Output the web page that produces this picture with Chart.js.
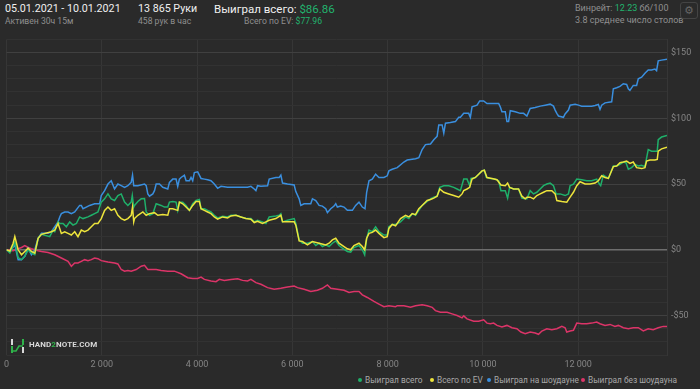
<!DOCTYPE html>
<html>
<head>
<meta charset="utf-8">
<script src="https://cdn.jsdelivr.net/npm/chart.js@4"></script>
<style>
  html, body { margin: 0; padding: 0; background: #2a2a2a; }
  body { width: 700px; height: 389px; position: relative; overflow: hidden; font-family: Roboto, "Noto Sans", sans-serif; }
  .t { position: absolute; white-space: nowrap; }
  .big { font-size: 10.7px; color: #f0f0f0; }
  .small { font-size: 8.6px; color: #8f8f8f; }
  .green { color: #22b46e; }
  #chart-wrap { position: absolute; left: 0; top: 30px; width: 700px; height: 340px; }
  #legend { position: absolute; top: 375px; left: 358px; font-size: 8.3px; color: #a8a8a8; }
  #legend span.item { position: absolute; white-space: nowrap; }
  #legend i { display: inline-block; width: 4px; height: 4px; border-radius: 50%; margin-right: 3px; vertical-align: middle; position: relative; top: -1px; }
  #gear { position: absolute; left: 680px; top: 2px; width: 16px; height: 15px; border: 1px solid #444; border-radius: 3px; color: #666; font-size: 11px; text-align: center; line-height: 15px; font-family: "DejaVu Sans", sans-serif; }
  #logo { position: absolute; left: 10px; top: 338px; height: 14px; }
  #logo .txt { position: absolute; left: 19px; top: 2px; font-size: 8px; font-weight: bold; color: #d8d8d8; letter-spacing: 0.1px; white-space: nowrap; }
</style>
</head>
<body>

<div class="t big" style="left:5px; top:2px;">05.01.2021 - 10.01.2021</div>
<div class="t small" style="left:5px; top:16px;">Активен 30ч 15м</div>
<div class="t big" style="left:138px; top:2px;">13 865 Руки</div>
<div class="t small" style="left:138px; top:16px;">458 рук в час</div>
<div class="t big" style="left:214px; top:2px; font-size:11.5px;">Выиграл всего: <span class="green">$86.86</span></div>
<div class="t small" style="right:378px; top:16px;">Всего по EV: <span class="green">$77.96</span></div>
<div class="t small" style="left:575px; top:3px; font-size:9px;">Винрейт: <span class="green">12.23</span> бб/100</div>
<div class="t small" style="left:575px; top:15px; font-size:9px;">3.8 среднее число столов</div>
<div id="gear">⚙</div>

<div id="chart-wrap"><canvas id="chart"></canvas></div>

<div id="logo">
  <svg width="16" height="14" viewBox="0 0 16 14">
    <rect x="1" y="0" width="2" height="6" fill="#d8d8d8"/>
    <rect x="1" y="7" width="2" height="7" fill="#2fb34a"/>
    <rect x="12" y="0" width="2" height="6" fill="#2fb34a"/>
    <rect x="12" y="8" width="2" height="6" fill="#d8d8d8"/>
    <path d="M2 12 L6 12 L9 7 L13 7" stroke="#2fb34a" stroke-width="1.6" fill="none"/>
  </svg>
  <span class="txt">HAND<span style="color:#2fb34a">2</span>NOTE.COM</span>
</div>

<div id="legend"></div>

<script>
// ---------------------------------------------------------------------------
// Data (hands played -> cumulative $)
// ---------------------------------------------------------------------------
const wonHands = [0, 70, 139, 174, 244, 314, 384, 453, 523, 593, 663, 733, 907, 977, 1012, 1082, 1117, 1186, 1256, 1326, 1396, 1466, 1535, 1605, 1710, 1780, 1849, 1919, 1989, 2059, 2129, 2198, 2268, 2338, 2408, 2478, 2547, 2617, 2640, 2670, 2687, 2757, 2827, 2897, 2932, 3001, 3071, 3141, 3245, 3315, 3385, 3420, 3490, 3559, 3594, 3629, 3699, 3769, 3839, 3908, 3978, 4048, 4083, 4153, 4222, 4292, 4362, 4432, 4537, 4641, 4711, 4816, 4920, 5025, 5130, 5200, 5269, 5374, 5445, 5514, 5654, 5724, 5759, 5794, 5898, 6038, 6073, 6143, 6213, 6317, 6422, 6492, 6562, 6631, 6701, 6771, 6841, 6911, 6980, 7050, 7155, 7225, 7294, 7399, 7469, 7518, 7560, 7609, 7678, 7748, 7818, 7923, 7992, 8027, 8097, 8167, 8271, 8376, 8446, 8516, 8586, 8655, 8725, 8830, 8900, 8969, 9039, 9095, 9179, 9284, 9388, 9458, 9528, 9598, 9667, 9723, 9751, 9842, 9912, 9982, 10030, 10072, 10156, 10261, 10331, 10379, 10470, 10519, 10561, 10645, 10749, 10819, 10889, 10924, 10993, 11063, 11133, 11203, 11273, 11342, 11412, 11482, 11538, 11622, 11726, 11796, 11831, 11901, 11971, 12075, 12180, 12285, 12389, 12445, 12473, 12529, 12634, 12738, 12808, 12878, 12948, 13004, 13053, 13122, 13192, 13262, 13332, 13402, 13471, 13541, 13611, 13660, 13681, 13751, 13865];
const wonValues = [0, -2.5, 2.5, 6, -6, -7.5, -5, 0, -2.5, -3.75, 8.75, 11.75, 10, 15, 13.75, 21.25, 20, 20, 17.5, 21.25, 18.75, 20, 25, 23.75, 25, 26.25, 27.5, 28.75, 36.25, 38.75, 42.5, 38.75, 37.5, 41.25, 42.5, 36.25, 33.75, 36.25, 41.25, 32.5, 33.75, 36.75, 38.75, 39, 28.75, 26.25, 27.5, 35, 33.75, 32.5, 32.5, 36.25, 36.75, 36.25, 30, 36.25, 36.25, 33.75, 30, 35, 37.5, 38.25, 31.25, 31.25, 30, 28.75, 26.25, 24.25, 25.5, 25, 26.25, 26.25, 25, 23.75, 23.75, 21.25, 22.5, 21.25, 20, 25, 25.75, 26.25, 27.5, 21.25, 22.5, 23.75, 20, 7.5, 5, 5, 6.25, 3.25, 5, 2.5, 3.75, 2.5, 5, 6.75, 3.25, 1.25, -1.25, -1.75, 1.75, 3.25, 0, -3.75, 8.75, 15, 13.75, 17.5, 13.75, 11.25, 11.25, 17.5, 19.25, 19.25, 21.25, 25, 23.75, 27.5, 26.25, 30, 33.75, 36.75, 38.75, 40, 40.75, 47.5, 48.75, 48.75, 47.5, 46.25, 45, 53.75, 53.75, 48.75, 54.25, 55, 57.5, 60, 60.5, 55, 54.25, 53.75, 52.5, 45, 45, 39.25, 47.5, 46.25, 46.25, 39.25, 38.75, 38.75, 45, 42.5, 43.75, 46.25, 48.75, 50, 50.75, 48.75, 42.5, 42.5, 41.25, 42.5, 48.75, 50, 53.75, 53.25, 52.5, 52.5, 53.75, 50, 48.75, 56.75, 54.25, 63.75, 63.75, 65, 66.75, 66.25, 61.25, 62.5, 65, 63.75, 64.25, 63.25, 76.25, 75, 75, 75, 83.75, 85.75, 86.86];

const evHands = [0, 70, 139, 174, 244, 314, 384, 453, 523, 593, 663, 733, 942, 1012, 1082, 1151, 1221, 1291, 1361, 1431, 1500, 1570, 1640, 1710, 1780, 1849, 1919, 1989, 2059, 2129, 2198, 2268, 2338, 2408, 2478, 2547, 2617, 2645, 2670, 2687, 2757, 2862, 2932, 3001, 3106, 3176, 3280, 3385, 3420, 3490, 3594, 3629, 3699, 3769, 3839, 3908, 3978, 4048, 4083, 4153, 4222, 4292, 4362, 4432, 4537, 4641, 4711, 4816, 4920, 5025, 5130, 5200, 5269, 5374, 5445, 5514, 5654, 5759, 5794, 6038, 6073, 6143, 6213, 6317, 6422, 6562, 6701, 6771, 6841, 6911, 6980, 7085, 7155, 7225, 7294, 7399, 7469, 7518, 7560, 7609, 7678, 7748, 7818, 7923, 7992, 8027, 8097, 8167, 8271, 8376, 8446, 8516, 8586, 8655, 8725, 8830, 8900, 8969, 9039, 9095, 9179, 9284, 9388, 9493, 9563, 9598, 9667, 9723, 9772, 9842, 9912, 9982, 10030, 10086, 10191, 10296, 10379, 10470, 10519, 10561, 10645, 10749, 10819, 10889, 10924, 10993, 11063, 11133, 11203, 11273, 11342, 11447, 11517, 11552, 11657, 11761, 11831, 11901, 11971, 12040, 12145, 12250, 12355, 12424, 12494, 12564, 12634, 12738, 12808, 12878, 12948, 13018, 13087, 13157, 13227, 13332, 13402, 13436, 13506, 13611, 13660, 13681, 13751, 13865];
const evValues = [0, -1, 5, 10, 0, -3.75, -1.25, 1.25, -1.25, -2.5, 8.75, 11.75, 13.75, 15, 20, 12.5, 13.75, 12.5, 11.25, 13.75, 10, 15, 13.75, 15, 17.5, 20, 20, 23.75, 30, 32.5, 30, 31.25, 26.25, 23.75, 22.5, 23.75, 26.25, 32.5, 21.25, 23.75, 26.25, 28.75, 26.25, 27.5, 28.25, 26.25, 26.75, 26.25, 31.25, 31.25, 30, 36.25, 35, 32.5, 30, 33.75, 36.75, 36.75, 31.25, 30, 28.75, 27.5, 25, 23.25, 25, 24.25, 25.75, 26.25, 25, 23.75, 23.25, 20.75, 21.75, 20, 21.25, 22.5, 23.75, 26.25, 21.25, 21.25, 18.75, 6.75, 6.25, 3.75, 6.25, 5, 3.75, 5, 7.5, 8.75, 5, 2.5, 0.75, 0, 3.25, 5, 2.5, 0, 8.75, 12.5, 13.25, 15, 12.5, 9.25, 10, 16.25, 19.25, 18.25, 23.75, 26.25, 25, 27.5, 26.75, 31.25, 33.75, 37.5, 38.25, 39.25, 40.75, 46.25, 43.75, 42.5, 41.25, 40, 42.5, 45, 46.25, 47.5, 53.75, 55, 57.5, 60, 60.5, 55, 54.25, 53.25, 49.25, 48.75, 50.75, 47.5, 46.25, 46.25, 40.75, 38.75, 40, 40, 38.75, 41.25, 42.5, 43.75, 45, 45, 42.5, 37.5, 36.75, 36.25, 40, 43.75, 48.75, 51.75, 50, 50, 50.75, 52.5, 56.25, 55, 54.25, 63.25, 63.75, 66.25, 66.75, 67.5, 65.75, 66.75, 62.5, 61.75, 62.5, 67.5, 68.25, 68.25, 68.75, 75, 76.75, 77.96];

const sdHands = [0, 70, 174, 244, 314, 384, 453, 523, 593, 663, 733, 872, 942, 1012, 1082, 1117, 1151, 1221, 1291, 1361, 1431, 1535, 1570, 1605, 1675, 1745, 1849, 1954, 1989, 2059, 2129, 2198, 2268, 2338, 2408, 2478, 2547, 2617, 2645, 2670, 2757, 2897, 2932, 2966, 3001, 3071, 3106, 3141, 3211, 3280, 3385, 3420, 3490, 3559, 3594, 3629, 3664, 3734, 3769, 3839, 3873, 3908, 3943, 4013, 4083, 4153, 4222, 4292, 4362, 4432, 4502, 4641, 4781, 4920, 5060, 5130, 5200, 5235, 5269, 5339, 5480, 5514, 5654, 5724, 5759, 5794, 5898, 6038, 6073, 6143, 6178, 6247, 6387, 6422, 6492, 6562, 6631, 6701, 6736, 6806, 6876, 6911, 6945, 7015, 7085, 7155, 7260, 7329, 7399, 7469, 7525, 7560, 7609, 7678, 7748, 7818, 7923, 7992, 8027, 8097, 8202, 8341, 8411, 8481, 8586, 8655, 8725, 8795, 8900, 8969, 9039, 9074, 9144, 9179, 9214, 9318, 9423, 9493, 9528, 9598, 9702, 9737, 9772, 9877, 9933, 10016, 10086, 10191, 10331, 10365, 10400, 10470, 10505, 10540, 10575, 10680, 10784, 10854, 10924, 10993, 11098, 11203, 11308, 11412, 11482, 11517, 11552, 11587, 11691, 11726, 11796, 11831, 11936, 12006, 12075, 12180, 12285, 12355, 12424, 12459, 12494, 12564, 12704, 12738, 12808, 12878, 12948, 13018, 13053, 13087, 13157, 13227, 13262, 13332, 13402, 13471, 13541, 13611, 13646, 13681, 13751, 13865];
const sdValues = [0, -1.25, 3.75, -7.5, -7.5, -5, 1.25, -3.75, 0, 8.75, 12.5, 12.5, 13.75, 17.5, 21.25, 25, 27.5, 28.75, 28.75, 27.5, 28.75, 33.75, 33.75, 31.25, 32.5, 33.75, 35, 35, 41.25, 45, 50, 52.5, 46.25, 50, 48.75, 47.5, 48.75, 51.25, 56.75, 48.75, 48.75, 50, 48.75, 42.5, 40.75, 42.5, 45, 50, 50, 47.5, 46.25, 51.25, 53.75, 53.75, 48.25, 53.75, 55, 56.75, 52.5, 52.5, 55, 52.5, 58.75, 59.25, 54.25, 53.75, 53.25, 52.5, 50, 46.75, 48.25, 47.5, 47.5, 47.5, 47.5, 48.25, 46.25, 45, 48.75, 48.25, 48.75, 53.75, 55, 55, 56.75, 50.75, 50, 49.25, 44.25, 38.75, 33.75, 35, 35, 38.75, 37.5, 33.75, 33.25, 31.25, 28.25, 31.25, 33.25, 35, 32.5, 33.25, 32.5, 30, 30, 33.75, 36.25, 32.5, 31.25, 43.75, 52.5, 53.75, 57.5, 55, 55, 56.25, 60, 61.25, 62.5, 66.75, 68.25, 68.75, 69.25, 70, 76.25, 80, 80.5, 83.75, 86.25, 95, 95, 88.75, 96.25, 96.75, 97.5, 100.75, 100.75, 103.75, 103.75, 100.75, 108.75, 110, 113.25, 113.25, 111.25, 111.25, 111.25, 108.75, 105, 105, 97.5, 97.5, 105.75, 105, 103.75, 103.75, 101.75, 107.5, 108.25, 109.25, 110, 110.75, 109.25, 106.25, 103.75, 101.75, 100.75, 103.25, 106.25, 110, 110.75, 110, 109.25, 109.25, 109.25, 109.75, 110.5, 106.75, 110, 111.75, 112.5, 122.5, 123.25, 124.25, 126.25, 125.75, 122.5, 121.25, 125, 125, 130, 131.25, 134.25, 136.75, 136.75, 137.5, 136.25, 143.75, 144.25, 145];

const nsdHands = [0, 139, 244, 314, 384, 453, 523, 593, 663, 733, 872, 1012, 1151, 1291, 1361, 1431, 1500, 1570, 1640, 1710, 1780, 1849, 1919, 1989, 2129, 2268, 2338, 2408, 2478, 2547, 2617, 2722, 2827, 2897, 2966, 3141, 3245, 3385, 3524, 3664, 3804, 3908, 4013, 4083, 4153, 4292, 4397, 4467, 4571, 4711, 4851, 4955, 5060, 5130, 5235, 5339, 5480, 5619, 5759, 5898, 6038, 6108, 6247, 6387, 6527, 6631, 6736, 6806, 6945, 7085, 7190, 7294, 7399, 7469, 7574, 7713, 7818, 7923, 8027, 8167, 8202, 8341, 8481, 8586, 8725, 8830, 8935, 9004, 9109, 9249, 9353, 9458, 9563, 9598, 9667, 9807, 9912, 10016, 10086, 10156, 10226, 10296, 10400, 10505, 10610, 10714, 10798, 10889, 10993, 11098, 11168, 11238, 11342, 11447, 11552, 11657, 11726, 11761, 11831, 11901, 11971, 12075, 12180, 12285, 12389, 12459, 12564, 12669, 12773, 12843, 12948, 13053, 13157, 13262, 13367, 13471, 13576, 13681, 13786, 13865];
const nsdValues = [0, -0.75, 0.75, 1.75, 3.25, 1.75, 0.75, 0, -0.75, -1.25, -2, -3.75, -6.25, -8.75, -12.5, -10, -10, -8.75, -7.5, -8.25, -7.5, -6.25, -6.75, -8.25, -9.25, -10, -10.75, -15, -16.25, -15.75, -16.25, -15, -12.5, -11.75, -15, -15, -15.75, -16.25, -16.25, -18.25, -21.25, -21.75, -21.75, -20.75, -22.5, -23.75, -24.25, -22.5, -23.25, -22.5, -22, -23.25, -23.75, -22.5, -25, -26.25, -28.75, -30, -29.25, -28.25, -27.5, -28.75, -30, -31.75, -30.75, -29.25, -26.75, -29.25, -30, -30.75, -32.5, -31.75, -31.75, -34.25, -36.25, -39.25, -41.25, -43.25, -42.5, -43.25, -42.5, -42.5, -43.75, -42.5, -41.75, -42.5, -43.75, -46.25, -47.5, -47.5, -48.75, -50, -51.75, -50.25, -52.5, -54.25, -54.25, -53.25, -55.75, -56.25, -55.75, -57.5, -58.75, -57.5, -59.25, -60, -62.5, -63.75, -62.5, -63.25, -64.25, -61.75, -60, -60.75, -60, -58.25, -59.25, -62.5, -61.75, -61.25, -55.75, -56.25, -56.25, -55.75, -55, -56.25, -57.5, -56.75, -58.25, -57.5, -59.25, -60, -59.25, -59.25, -61.75, -60, -60.75, -59.25, -58.25, -58.25];

const seriesLabels = ['Выиграл всего', 'Всего по EV', 'Выиграл на шоудауне', 'Выиграл без шоудауна'];
const seriesColors = ['#1fb06a', '#ede43c', '#3a8fdf', '#dc3468'];
const xTicks = [0, 2000, 4000, 6000, 8000, 10000, 12000];
const yLabelTicks = [-50, 0, 50, 100, 150];
const totalHands = 13865;

// ---------------------------------------------------------------------------
// Chart
// ---------------------------------------------------------------------------
const toPoints = (hands, vals) => hands.map((h, i) => ({ x: h, y: vals[i] }));
const seriesData = [
    toPoints(wonHands, wonValues),
    toPoints(evHands, evValues),
    toPoints(sdHands, sdValues),
    toPoints(nsdHands, nsdValues)
];

const fmtThousands = v => String(v).replace(/\B(?=(\d{3})+(?!\d))/g, ' ');

const ctx = document.getElementById('chart').getContext('2d');
new Chart(ctx, {
    type: 'line',
    data: {
        datasets: seriesData.map((d, i) => ({
            label: seriesLabels[i],
            data: d,
            borderColor: seriesColors[i],
            borderWidth: 1.5,
            pointRadius: 0,
            tension: 0,
            fill: false,
            order: [2, 1, 3, 4][i]
        }))
    },
    options: {
        responsive: true,
        maintainAspectRatio: false,
        animation: false,
        layout: { padding: { left: 5, top: 5, right: 0, bottom: 0 } },
        plugins: { legend: { display: false }, tooltip: { enabled: false } },
        scales: {
            x: {
                type: 'linear',
                min: 0,
                max: totalHands,
                afterBuildTicks: s => { s.ticks = xTicks.map(v => ({ value: v })); },
                afterFit: s => { s.height = 15; },
                grid: { color: '#363636', drawTicks: false },
                border: { display: false },
                ticks: {
                    color: '#858585',
                    padding: 4,
                    maxRotation: 0,
                    autoSkip: false,
                    font: { family: 'Roboto', size: 9 },
                    callback: v => fmtThousands(v)
                }
            },
            y: {
                position: 'right',
                min: -80,
                max: 160,
                afterFit: s => { s.width = 33; },
                grid: {
                    drawTicks: false,
                    color: c => {
                        const v = c.tick.value;
                        if (v === 0) return '#6e6e6e';
                        if (yLabelTicks.includes(v)) return '#404040';
                        return '#323232';
                    },
                    lineWidth: c => (c.tick.value === 0 ? 1.5 : 1)
                },
                border: { display: true, color: '#363636' },
                ticks: {
                    stepSize: 10,
                    autoSkip: false,
                    color: '#858585',
                    padding: 4,
                    font: { family: 'Roboto', size: 9 },
                    callback: v => {
                        if (!yLabelTicks.includes(v)) return '';
                        return v < 0 ? '-$' + Math.abs(v) : '$' + v;
                    }
                }
            }
        }
    }
});

// Legend (bottom right)
const legendPos = [0, 72, 129, 223];
const legend = document.getElementById('legend');
seriesLabels.forEach((lab, i) => {
    const s = document.createElement('span');
    s.className = 'item';
    s.style.left = legendPos[i] + 'px';
    s.innerHTML = '<i style="background:' + seriesColors[i] + '"></i>' + lab;
    legend.appendChild(s);
});
</script>
</body>
</html>
